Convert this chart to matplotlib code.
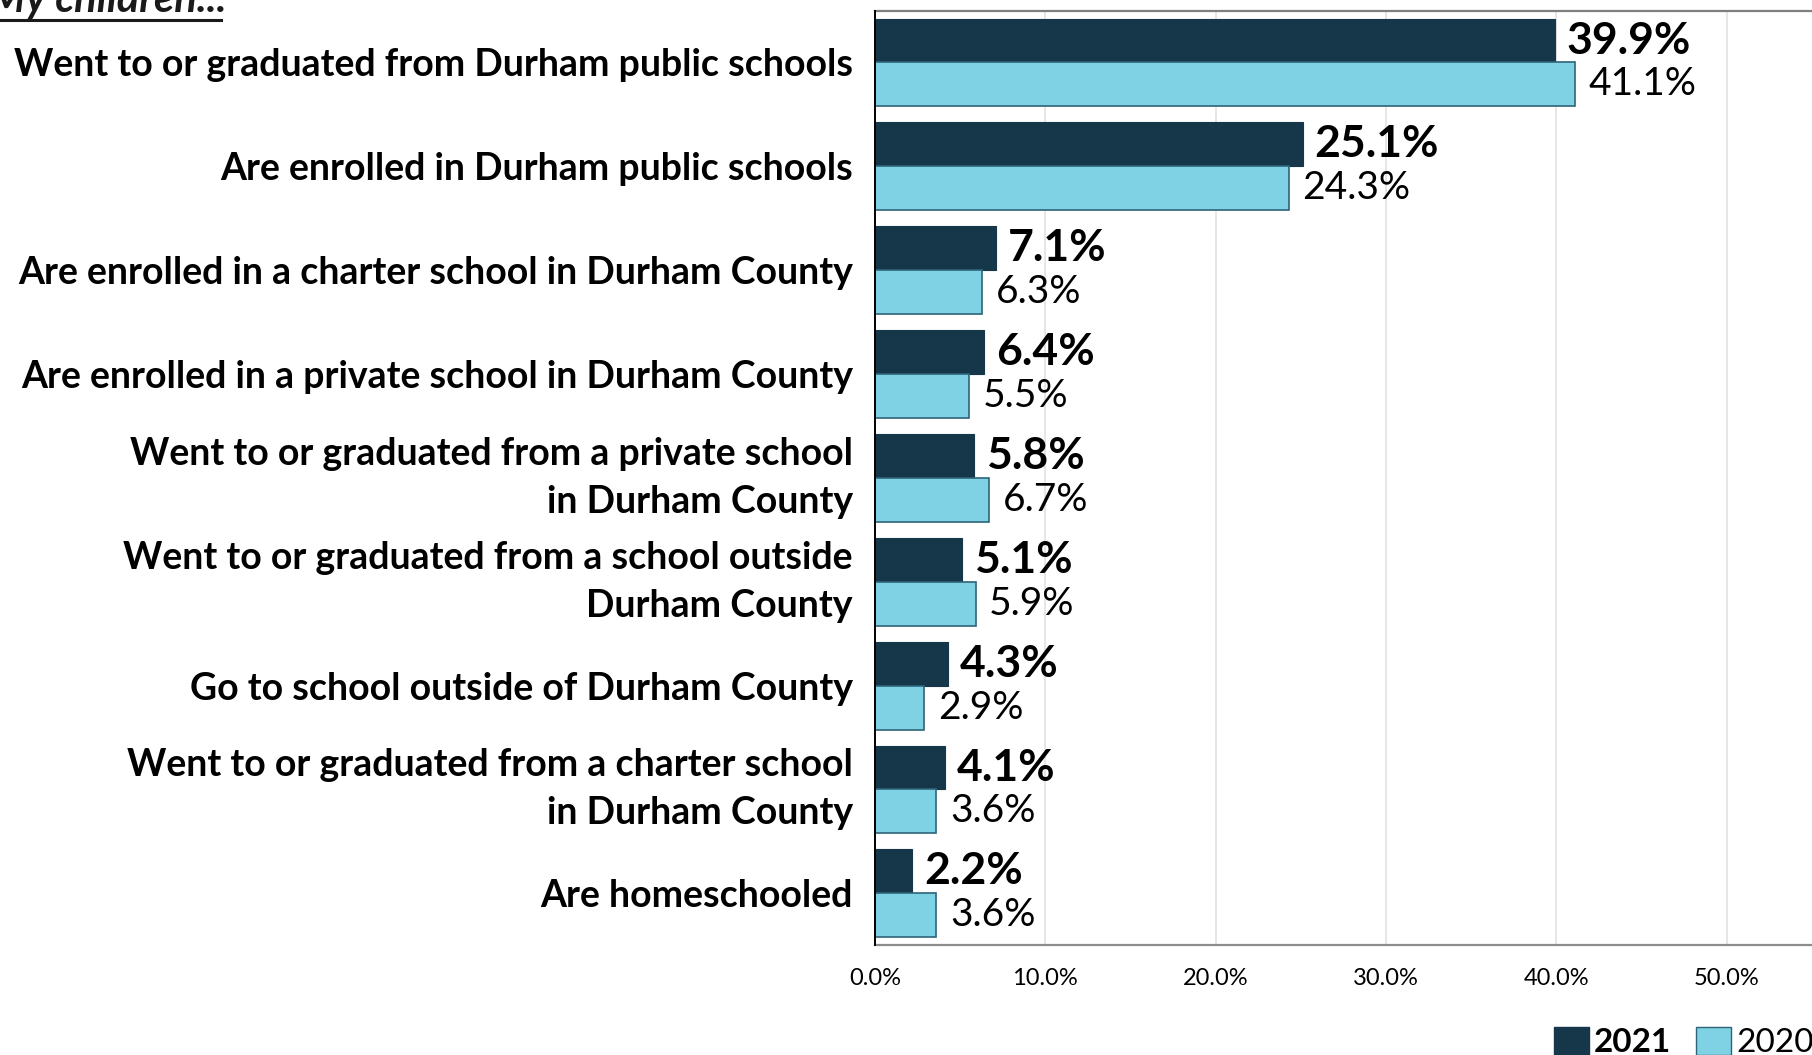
import matplotlib
matplotlib.use("Agg")
import matplotlib.pyplot as plt
from matplotlib.patches import Patch
from matplotlib.lines import Line2D
import numpy as np

categories = [
    "Went to or graduated from Durham public schools",
    "Are enrolled in Durham public schools",
    "Are enrolled in a charter school in Durham County",
    "Are enrolled in a private school in Durham County",
    "Went to or graduated from a private school\nin Durham County",
    "Went to or graduated from a school outside\nDurham County",
    "Go to school outside of Durham County",
    "Went to or graduated from a charter school\nin Durham County",
    "Are homeschooled",
]
values_2021 = [39.9, 25.1, 7.1, 6.4, 5.8, 5.1, 4.3, 4.1, 2.2]
values_2020 = [41.1, 24.3, 6.3, 5.5, 6.7, 5.9, 2.9, 3.6, 3.6]
series_names = ["2021", "2020"]
xticks = [0, 10, 20, 30, 40, 50]
title_text = "My children..."

FONT = "Lato"
plt.rcParams["font.family"] = [FONT, "DejaVu Sans"]

DARK = "#16364A"
LIGHT = "#7ED2E4"
LIGHT_EDGE = "#2E6478"

fig = plt.figure(figsize=(18.12, 10.55), dpi=100)
ax = fig.add_axes([0.4829, 0.104, 0.5171, 0.886])

y = np.arange(len(categories))
h = 0.423
ax.barh(y - h / 2, values_2021, height=h, color=DARK, edgecolor=DARK, linewidth=0.8, zorder=3)
ax.barh(y + h / 2, values_2020, height=h, color=LIGHT, edgecolor=LIGHT_EDGE, linewidth=1.2, zorder=3)

for yi, v in zip(y, values_2021):
    ax.text(v + 0.7, yi - h / 2, f"{v:.1f}%", ha="left", va="center",
            fontsize=32, fontweight="bold", color="black", zorder=4)
for yi, v in zip(y, values_2020):
    ax.text(v + 0.8, yi + h / 2, f"{v:.1f}%", ha="left", va="center",
            fontsize=28, color="black", zorder=4)

ax.set_xlim(0, 55)
ax.set_ylim(len(categories) - 0.5, -0.5)
ax.set_xticks(xticks)
ax.set_xticklabels([f"{t:.1f}%" for t in xticks], fontsize=17)
ax.set_yticks(y)
ax.set_yticklabels(categories, fontsize=27, fontweight="bold", linespacing=1.5)
for lab in ax.get_yticklabels():
    if "\n" in lab.get_text():
        lab.set_va("center")
ax.tick_params(axis="y", length=0, pad=16)
ax.tick_params(axis="x", length=0, pad=16)
ax.grid(axis="x", color="#E2E2E2", linewidth=1.2, zorder=0)
ax.set_axisbelow(True)

ax.spines["right"].set_visible(False)
ax.spines["left"].set_color("black")
ax.spines["left"].set_linewidth(1.4)
ax.spines["bottom"].set_color("#8C8C8C")
ax.spines["bottom"].set_linewidth(1.6)
ax.spines["top"].set_color("#7F7F7F")
ax.spines["top"].set_linewidth(1.6)
ax.spines["left"].set_zorder(5)

# title (cut off at the top)
t = fig.text(-0.006, 1 - 12 / 1055, title_text, fontsize=30, fontweight="bold",
             fontstyle="italic", color="#1a1a1a", ha="left", va="baseline")
fig.canvas.draw()
bb = t.get_window_extent()
x0, x1 = bb.x0 / fig.bbox.width, bb.x1 / fig.bbox.width
fig.add_artist(Line2D([x0, x1 - 0.003], [1 - 20 / 1055] * 2, color="#1a1a1a", linewidth=2.2,
                      transform=fig.transFigure))

handles = [Patch(facecolor=DARK, edgecolor=DARK), Patch(facecolor=LIGHT, edgecolor=LIGHT_EDGE)]
leg = fig.legend(handles, series_names, loc="lower right", bbox_to_anchor=(1.012, -0.022),
                 ncol=2, frameon=False, fontsize=24, handlelength=1.05, handleheight=0.9,
                 handletextpad=0.15, columnspacing=0.75, borderaxespad=0.2)
leg.get_texts()[0].set_fontweight("bold")

fig.savefig("out.png", dpi=100)
